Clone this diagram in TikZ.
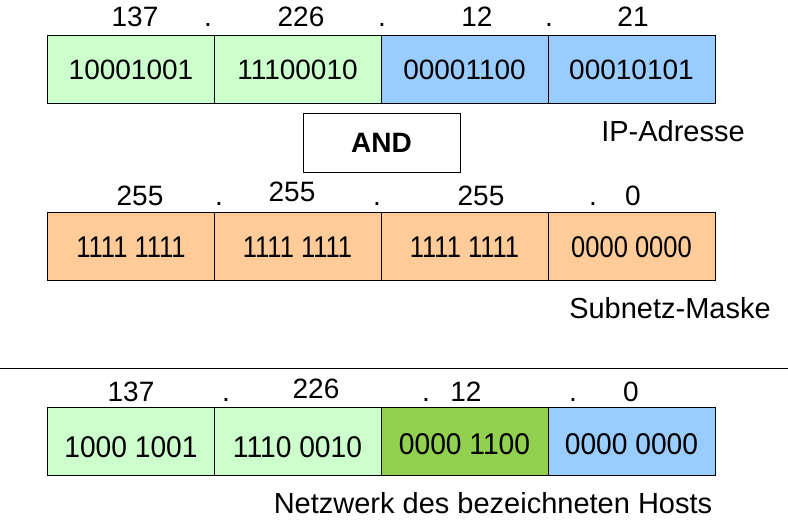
\documentclass[tikz,border=0pt]{standalone}
\usepackage{fontspec}
\setmainfont{Liberation Sans}
\newfontfamily\masknarrow[FakeStretch=0.85]{Liberation Sans}
\newfontfamily\netnarrow[FakeStretch=0.94]{Liberation Sans}
\definecolor{IPGreen}{HTML}{CCFFCC}
\definecolor{IPBlue}{HTML}{99CCFF}
\definecolor{IPOrange}{HTML}{FFCC99}
\definecolor{IPNet}{HTML}{92D050}
\tikzset{
  ipcell/.style={
    draw=black,
    line width=0.8pt,
    minimum width=167pt,
    minimum height=68pt,
    inner sep=0pt,
    outer sep=0pt,
    text depth=0pt,
    font=\fontsize{28}{30}\selectfont
  },
  ipnum/.style={anchor=base,inner sep=0pt,font=\fontsize{28}{30}\selectfont},
  ipcaption/.style={anchor=base,inner sep=0pt,font=\fontsize{29}{31}\selectfont}
}

\begin{document}
\begin{tikzpicture}[x=1pt,y=-1pt,
  maskcell/.style={ipcell,fill=IPOrange,text height=24pt,font=\fontsize{30}{32}\masknarrow},
  netcell/.style={ipcell,font=\fontsize{30}{32}\netnarrow}
]
  \useasboundingbox (0,0) rectangle (788,521);

  % IP-Adresse
  \node[ipnum] (ipa) at (135,27) {137};
  \node[ipnum] (ipad1) at (208,27) {.};
  \node[ipnum] (ipb) at (301,27) {226};
  \node[ipnum] (ipad2) at (382,27) {.};
  \node[ipnum] (ipc) at (477,27) {12};
  \node[ipnum] (ipad3) at (549,27) {.};
  \node[ipnum] (ipd) at (633,27) {21};

  \node[ipcell,fill=IPGreen,text height=20pt] (ip1) at (131,69.5) {10001001};
  \node[ipcell,fill=IPGreen,text height=20pt] (ip2) at (297.5,69.5) {11100010};
  \node[ipcell,fill=IPBlue,text height=20pt] (ip3) at (464.5,69.5) {00001100};
  \node[ipcell,fill=IPBlue,text height=20pt] (ip4) at (631.5,69.5) {00010101};

  \node[ipcell,minimum width=157pt,minimum height=59pt,text height=20pt,
    font=\fontsize{28}{30}\selectfont\bfseries] (andop) at (381.5,142.5) {AND};
  \node[ipcaption] (ipname) at (673,142) {IP-Adresse};

  % Subnetz-Maske
  \node[ipnum] (ma) at (140,206) {255};
  \node[ipnum] (mad1) at (219,206) {.};
  \node[ipnum] (mb) at (292,202) {255};
  \node[ipnum] (mad2) at (377,206) {.};
  \node[ipnum] (mc) at (481,206) {255};
  \node[ipnum] (mad3) at (593,206) {.};
  \node[ipnum] (md) at (633,206) {0};

  \node[maskcell] (mask1) at (131,246) {1111 1111};
  \node[maskcell] (mask2) at (297.5,246) {1111 1111};
  \node[maskcell] (mask3) at (464.5,246) {1111 1111};
  \node[maskcell] (mask4) at (631.5,246) {0000 0000};

  \node[ipcaption] (maskname) at (670,319) {Subnetz-Maske};

  \coordinate (rulel) at (0,368);
  \coordinate (ruler) at (788,368);
  \draw[line width=0.8pt] (rulel) -- (ruler);

  % Netzwerk
  \node[ipnum] (na) at (131,402) {137};
  \node[ipnum] (nad1) at (226,402) {.};
  \node[ipnum] (nb) at (316,399) {226};
  \node[ipnum] (nad2) at (426,402) {.};
  \node[ipnum] (nc) at (466,402) {12};
  \node[ipnum] (nad3) at (573,402) {.};
  \node[ipnum] (nd) at (631,402) {0};

  \node[netcell,fill=IPGreen,text height=31pt] (net1) at (131,441.5) {1000 1001};
  \node[netcell,fill=IPGreen,text height=31pt] (net2) at (297.5,441.5) {1110 0010};
  \node[netcell,fill=IPNet,text height=27pt] (net3) at (464.5,441.5) {0000 1100};
  \node[netcell,fill=IPBlue,text height=27pt] (net4) at (631.5,441.5) {0000 0000};

  \node[ipcaption] (netname) at (493,514) {Netzwerk des bezeichneten Hosts};
\end{tikzpicture}
\end{document}
